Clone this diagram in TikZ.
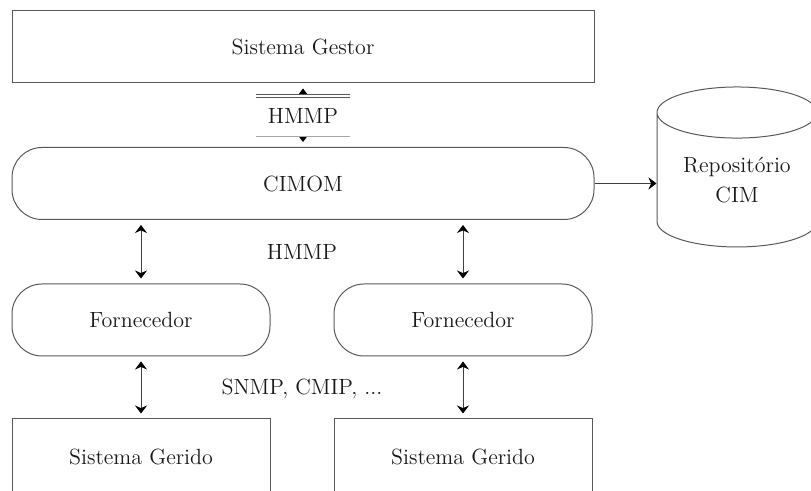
\documentclass[tikz,border=0pt]{standalone}
\usepackage{tikz}
\usetikzlibrary{arrows.meta,positioning,calc,shapes.geometric}

\tikzset{
  every box/.style={draw=black!65, line width=0.5pt, inner sep=0pt,
    font=\fontsize{11}{13}\selectfont, text=black!90},
  wide box/.style={every box, rectangle, minimum width=291pt, minimum height=36pt},
  wide round/.style={wide box, rounded corners=15pt},
  small box/.style={every box, rectangle, minimum width=129pt, minimum height=36pt},
  small round/.style={small box, rounded corners=15pt},
  link/.style={<->, draw=black!75, line width=0.5pt, shorten >=2.5pt, shorten <=2.5pt},
  proto/.style={font=\fontsize{11}{13}\selectfont, text=black!90, inner sep=0pt}
}

\begin{document}
\begin{tikzpicture}[x=0.5pt, y=-0.5pt, >={Stealth[length=4pt,width=6pt,color=black]}]

\clip (0,0) rectangle (811,491);

\node [wide box] (gestor) at (303,47) {Sistema Gestor};
\node [wide round] (cimom) at (303,183.5) {CIMOM};

\node [cylinder, shape border rotate=90, aspect=0.475, draw=black!65, line width=0.5pt,
  minimum width=80pt, minimum height=80pt, inner sep=0pt, align=center,
  font=\fontsize{11}{15}\selectfont, text=black!90] (repo) at (737,180) {Repositório\\CIM};

\foreach \n/\x in {1/141,2/463} {
  \node [small round] (forn-\n) at (\x,320) {Fornecedor};
  \node [small box, minimum height=38pt] (gerido-\n) at (\x,457) {Sistema Gerido};
}

% gestor <-> cimom, label sits over the shaft
\draw [link] (gestor) -- (cimom);
\node [proto, fill=white, minimum width=46.5pt, minimum height=20pt] (hmmp-top) at (303,116) {HMMP};
\draw [black!65, line width=0.5pt, double, double distance=1pt]
  (hmmp-top.north west) -- (hmmp-top.north east);
\draw [black!35, line width=0.5pt] (hmmp-top.south west) -- (hmmp-top.south east);

\draw [->, draw=black!75, line width=0.5pt] (cimom.east) -- (cimom.east -| repo.west);

\foreach \i in {1,2}
  \draw [link] (forn-\i |- cimom.south) -- (forn-\i);

\foreach \i in {1,2}
  \draw [link] (forn-\i) -- (gerido-\i);

\node [proto] (hmmp-mid) at (302,252) {HMMP};
\node [proto] (snmp) at (302,389) {SNMP, CMIP, ...};

\end{tikzpicture}
\end{document}
